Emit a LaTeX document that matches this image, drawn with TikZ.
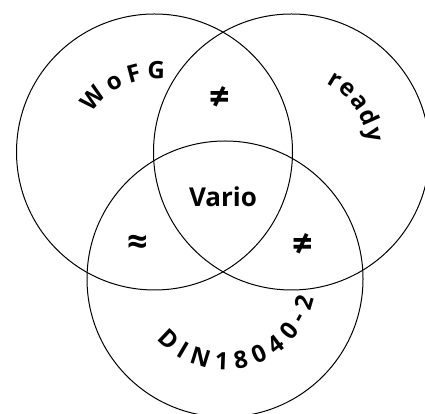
\documentclass[tikz,border=0pt]{standalone}
\usepackage{fontspec}
\setmainfont{Open Sans}
\usetikzlibrary{decorations.text}
\newcommand{\rimfont}{\bfseries\fontsize{24}{26}\selectfont}

\begin{document}
\begin{tikzpicture}[
  x=1pt, y=1pt,
  ring/.style={draw, circle, line width=1pt, minimum size=276pt, inner sep=0pt},
  curvetext/.style={decorate, decoration={text along path, text align=fit to path,
    text={|\rimfont|#1}}},
  sign/.style={font=\bfseries\fontsize{36}{36}\selectfont}
]
\useasboundingbox (0,0) rectangle (425,414);
\clip (0,0) rectangle (425,414);
% the three sets
\node[ring] (wofg) at (154.5,262) {};
\node[ring] (ready) at (291.5,262) {};
\node[ring] (din) at (225,135) {};
% labels on the rims
\path[curvetext=WoFG] (wofg.center) ++(148:73) arc[start angle=148, end angle=82, radius=73];
\path[curvetext=ready] (ready.center) ++(63:77) arc[start angle=63, end angle=7, radius=77];
\path[curvetext=DIN18040-2] (din.center) ++(-139:91) arc[start angle=-139, end angle=-12, radius=91];
% overlaps
\node[font=\bfseries\fontsize{26}{26}\selectfont] (vario) at (223,217) {Vario};
\node[sign] (top) at (220,316) {≠};
\node[sign] (left) at (138,169) {≈};
\node[sign] (right) at (303,169) {≠};
\end{tikzpicture}
\end{document}
